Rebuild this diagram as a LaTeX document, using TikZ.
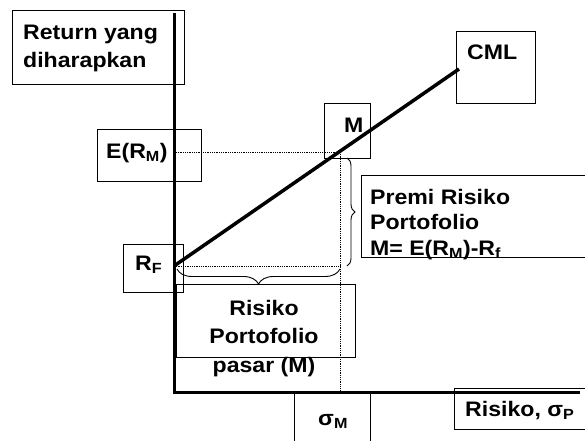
\documentclass[tikz,border=0pt]{standalone}
\usepackage{fontspec}
\setmainfont{Liberation Sans}[FakeStretch=1.1]
\usetikzlibrary{decorations.pathreplacing}
\begin{document}
\begin{tikzpicture}[x=1pt,y=-1pt,
  box/.style={draw, line width=0.9pt, inner sep=0pt, anchor=north west},
  txt/.style={inner sep=0pt, font=\fontsize{21}{27}\selectfont\bfseries},
  axis/.style={line width=3pt},
  cml/.style={line width=3.5pt},
  guide/.style={densely dotted, line width=0.8pt},
  brc/.style={decorate, line width=0.9pt, decoration={brace, amplitude=#1}}]
\useasboundingbox (0,0) rectangle (585,440);
% boxes
\node[box, minimum width=172pt, minimum height=74pt] (retbox) at (12,10) {};
\node[box, minimum width=79pt, minimum height=72pt] (cmlbox) at (456,31) {};
\node[box, minimum width=46pt, minimum height=55pt] (mbox) at (324,103) {};
\node[box, minimum width=104pt, minimum height=52pt] (embox) at (97,129) {};
\node[box, minimum width=60pt, minimum height=48pt] (rfbox) at (123,244) {};
\node[box, minimum width=226pt, minimum height=82pt] (premibox) at (361,175) {};
\node[box, minimum width=179pt, minimum height=73pt] (pasarbox) at (176,284) {};
\node[box, minimum width=76pt, minimum height=60pt] (sigmbox) at (294,392) {};
\node[box, minimum width=133pt, minimum height=41pt] (sigpbox) at (454,388) {};
% texts (base anchor = baseline of last line)
\node[txt, anchor=base west, align=left, font=\fontsize{21}{28}\selectfont\bfseries] (rettxt) at (23,67) {Return yang\\diharapkan};
\node[txt, anchor=base west] (cmltxt) at (467,59) {CML};
\node[txt, anchor=base west] (mtxt) at (344,132) {M};
\node[txt, anchor=base west] (emtxt) at (106,158) {E(R\textsubscript{M})};
\node[txt, anchor=base west] (rftxt) at (135,270) {R\textsubscript{F}};
\node[txt, anchor=base west, align=left, font=\fontsize{21}{25.5}\selectfont\bfseries] (premitxt) at (370,255) {Premi Risiko\\Portofolio\\M= E(R\textsubscript{M})-R\textsubscript{f}};
\node[txt, anchor=base, align=center, font=\fontsize{21}{28.5}\selectfont\bfseries] (pasartxt) at (264,372) {Risiko\\Portofolio\\pasar (M)};
\node[txt, anchor=base west] (sigmtxt) at (318,425) {σ\textsubscript{M}};
\node[txt, anchor=base west] (sigptxt) at (465,416) {Risiko, σ\textsubscript{P}};
% coordinates
\coordinate (ytop) at (174,13);
\coordinate (orig) at (174,393);
\coordinate (xend) at (580,392);
\coordinate (xstart) at (172.5,392);
\coordinate (rf) at (174,266);
\coordinate (mpt) at (339,152);
\coordinate (cmlend) at (459,69);
\coordinate (emleft) at (176,152);
\coordinate (mtop) at (340,152);
\coordinate (mbot) at (340,392);
\coordinate (rfright) at (340,266);
\coordinate (vb1) at (347,158);
\coordinate (vb2) at (347,266);
\coordinate (hb1) at (340,269);
\coordinate (hb2) at (177,269);
% guides
\draw[guide] (emleft) -- (mpt);
\draw[guide] (mtop) -- (mbot);
\draw[guide] (rf) -- (rfright);
% braces
\draw[brc=8pt] (vb1) -- (vb2);
\draw[brc=15pt] (hb1) -- (hb2);
% axes and line
\draw[axis] (ytop) -- (orig);
\draw[axis] (xstart) -- (xend);
\draw[cml] (rf) -- (cmlend);
\end{tikzpicture}
\end{document}
